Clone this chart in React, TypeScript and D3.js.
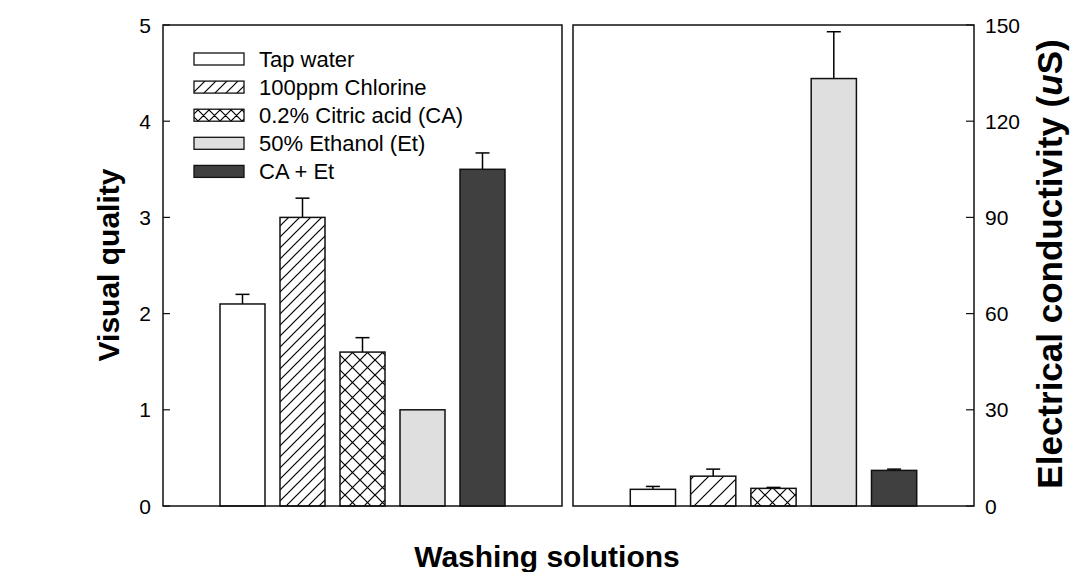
import * as d3 from 'd3'
import { useEffect, useRef } from 'react'

const solutions = ['Tap water', '100ppm Chlorine', '0.2% Citric acid (CA)', '50% Ethanol (Et)', 'CA + Et']
const visualQuality = [2.1, 3.0, 1.6, 1.0, 3.5]
const visualQualityErr = [0.1, 0.2, 0.15, 0, 0.17]
const conductivity = [5.2, 9.3, 5.5, 133.3, 11.1]
const conductivityErr = [0.9, 2.2, 0.3, 14.6, 0.4]
const visualTicks = [0, 1, 2, 3, 4, 5]
const conductivityTicks = [0, 30, 60, 90, 120, 150]

const W = 1073
const H = 572
const FONT = '"Liberation Sans", Arial, Helvetica, sans-serif'
const FILLS = ['#ffffff', 'url(#hatch-L)', 'url(#cross-L)', '#dfdfdf', '#404040']
const FILLS_R = ['#ffffff', 'url(#hatch-R)', 'url(#cross-R)', '#dfdfdf', '#404040']
const LEGEND_FILLS = ['#ffffff', 'url(#hatch-S)', 'url(#cross-S)', '#dfdfdf', '#404040']

export default function App() {
  const ref = useRef<SVGSVGElement | null>(null)

  useEffect(() => {
    const svgEl = ref.current
    if (!svgEl) return
    const svg = d3.select(svgEl)
    svg.selectAll('*').remove()
    svg.attr('viewBox', `0 0 ${W} ${H}`).style('font-family', FONT)

    const top = 25
    const bottom = 506
    const left = { x0: 163, x1: 562 }
    const right = { x0: 573, x1: 974 }

    // hatch patterns
    const defs = svg.append('defs')
    const addHatch = (id: string, s: number, cross: boolean) => {
      const p = defs
        .append('pattern')
        .attr('id', id)
        .attr('patternUnits', 'userSpaceOnUse')
        .attr('width', s)
        .attr('height', s)
      p.append('rect').attr('width', s).attr('height', s).attr('fill', '#fff')
      let d = `M0,${s} L${s},0 M${-s / 2},${s / 2} L${s / 2},${-s / 2} M${s / 2},${s * 1.5} L${s * 1.5},${s / 2}`
      if (cross) d += ` M0,0 L${s},${s} M${-s / 2},${s / 2} L${s / 2},${s * 1.5} M${s / 2},${-s / 2} L${s * 1.5},${s / 2}`
      p.append('path').attr('d', d).attr('stroke', '#000').attr('stroke-width', 1.2).attr('fill', 'none')
    }
    addHatch('hatch-L', 11, false)
    addHatch('cross-L', 15, true)
    addHatch('hatch-R', 15, false)
    addHatch('cross-R', 15, true)
    addHatch('hatch-S', 11, false)
    addHatch('cross-S', 11, true)

    const yL = d3.scaleLinear().domain([0, 5]).range([bottom, top])
    const yR = d3.scaleLinear().domain([0, 150]).range([bottom, top])
    const xL = d3.scaleBand<string>().domain(solutions).range([left.x0, left.x1]).paddingInner(0.25).paddingOuter(0.95)
    const xR = d3.scaleBand<string>().domain(solutions).range([right.x0, right.x1]).paddingInner(0.25).paddingOuter(0.95)

    const drawPanel = (
      x: d3.ScaleBand<string>,
      y: d3.ScaleLinear<number, number>,
      vals: number[],
      errs: number[],
      fills: string[],
    ) => {
      const g = svg.append('g')
      solutions.forEach((s, i) => {
        const bx = x(s) ?? 0
        const bw = x.bandwidth()
        const cx = bx + bw / 2
        if (errs[i] > 0) {
          g.append('line')
            .attr('x1', cx).attr('x2', cx)
            .attr('y1', y(vals[i])).attr('y2', y(vals[i] + errs[i]))
            .attr('stroke', '#000').attr('stroke-width', 1.5)
          g.append('line')
            .attr('x1', cx - 7).attr('x2', cx + 7)
            .attr('y1', y(vals[i] + errs[i])).attr('y2', y(vals[i] + errs[i]))
            .attr('stroke', '#000').attr('stroke-width', 1.5)
        }
        g.append('rect')
          .attr('x', bx)
          .attr('y', y(vals[i]))
          .attr('width', bw)
          .attr('height', y(0) - y(vals[i]))
          .attr('fill', fills[i])
          .attr('stroke', '#111')
          .attr('stroke-width', 1.5)
      })
    }

    drawPanel(xL, yL, visualQuality, visualQualityErr, FILLS)
    drawPanel(xR, yR, conductivity, conductivityErr, FILLS_R)

    // frames
    svg.append('rect')
      .attr('x', left.x0).attr('y', top).attr('width', left.x1 - left.x0).attr('height', bottom - top)
      .attr('fill', 'none').attr('stroke', '#111').attr('stroke-width', 1.5)
    svg.append('rect')
      .attr('x', right.x0).attr('y', top).attr('width', right.x1 - right.x0).attr('height', bottom - top)
      .attr('fill', 'none').attr('stroke', '#111').attr('stroke-width', 1.5)

    // left axis
    const axL = svg.append('g').attr('font-size', 21).attr('fill', '#000')
    visualTicks.forEach((t) => {
      axL.append('line')
        .attr('x1', left.x0).attr('x2', left.x0 + 7)
        .attr('y1', yL(t)).attr('y2', yL(t))
        .attr('stroke', '#111').attr('stroke-width', 1.2)
      axL.append('text')
        .attr('x', 151).attr('y', yL(t)).attr('dy', '0.36em')
        .attr('text-anchor', 'end').text(d3.format('d')(t))
    })

    // right axis
    const axR = svg.append('g').attr('font-size', 21).attr('fill', '#000')
    conductivityTicks.forEach((t) => {
      axR.append('line')
        .attr('x1', right.x1 - 8).attr('x2', right.x1)
        .attr('y1', yR(t)).attr('y2', yR(t))
        .attr('stroke', '#111').attr('stroke-width', 1.2)
      axR.append('text')
        .attr('x', 985).attr('y', yR(t)).attr('dy', '0.36em')
        .attr('text-anchor', 'start').text(d3.format('d')(t))
    })

    // titles
    svg.append('text')
      .attr('transform', `translate(119,265) rotate(-90)`)
      .attr('text-anchor', 'middle').attr('font-size', 30).attr('font-weight', 'bold')
      .text('Visual quality')
    const rt = svg.append('text')
      .attr('transform', `translate(1062,264) rotate(-90)`)
      .attr('text-anchor', 'middle').attr('font-size', 35).attr('font-weight', 'bold')
    rt.append('tspan').text('Electrical conductivity (')
    rt.append('tspan').attr('font-style', 'italic').text('u')
    rt.append('tspan').text('S)')
    svg.append('text')
      .attr('x', 547).attr('y', 567)
      .attr('text-anchor', 'middle').attr('font-size', 30).attr('font-weight', 'bold')
      .text('Washing solutions')

    // legend
    const leg = svg.append('g')
    solutions.forEach((s, i) => {
      const cy = 59 + i * 28.1
      leg.append('rect')
        .attr('x', 194).attr('y', cy - 6).attr('width', 50).attr('height', 12)
        .attr('fill', LEGEND_FILLS[i]).attr('stroke', '#111').attr('stroke-width', 1.3)
      leg.append('text')
        .attr('x', 259).attr('y', cy).attr('dy', '0.36em')
        .attr('font-size', 22).text(s)
    })
  }, [])

  return (
    <svg
      ref={ref}
      width={W}
      height={H}
      style={{ position: 'absolute', left: 0, top: 0, background: '#fff' }}
    />
  )
}
